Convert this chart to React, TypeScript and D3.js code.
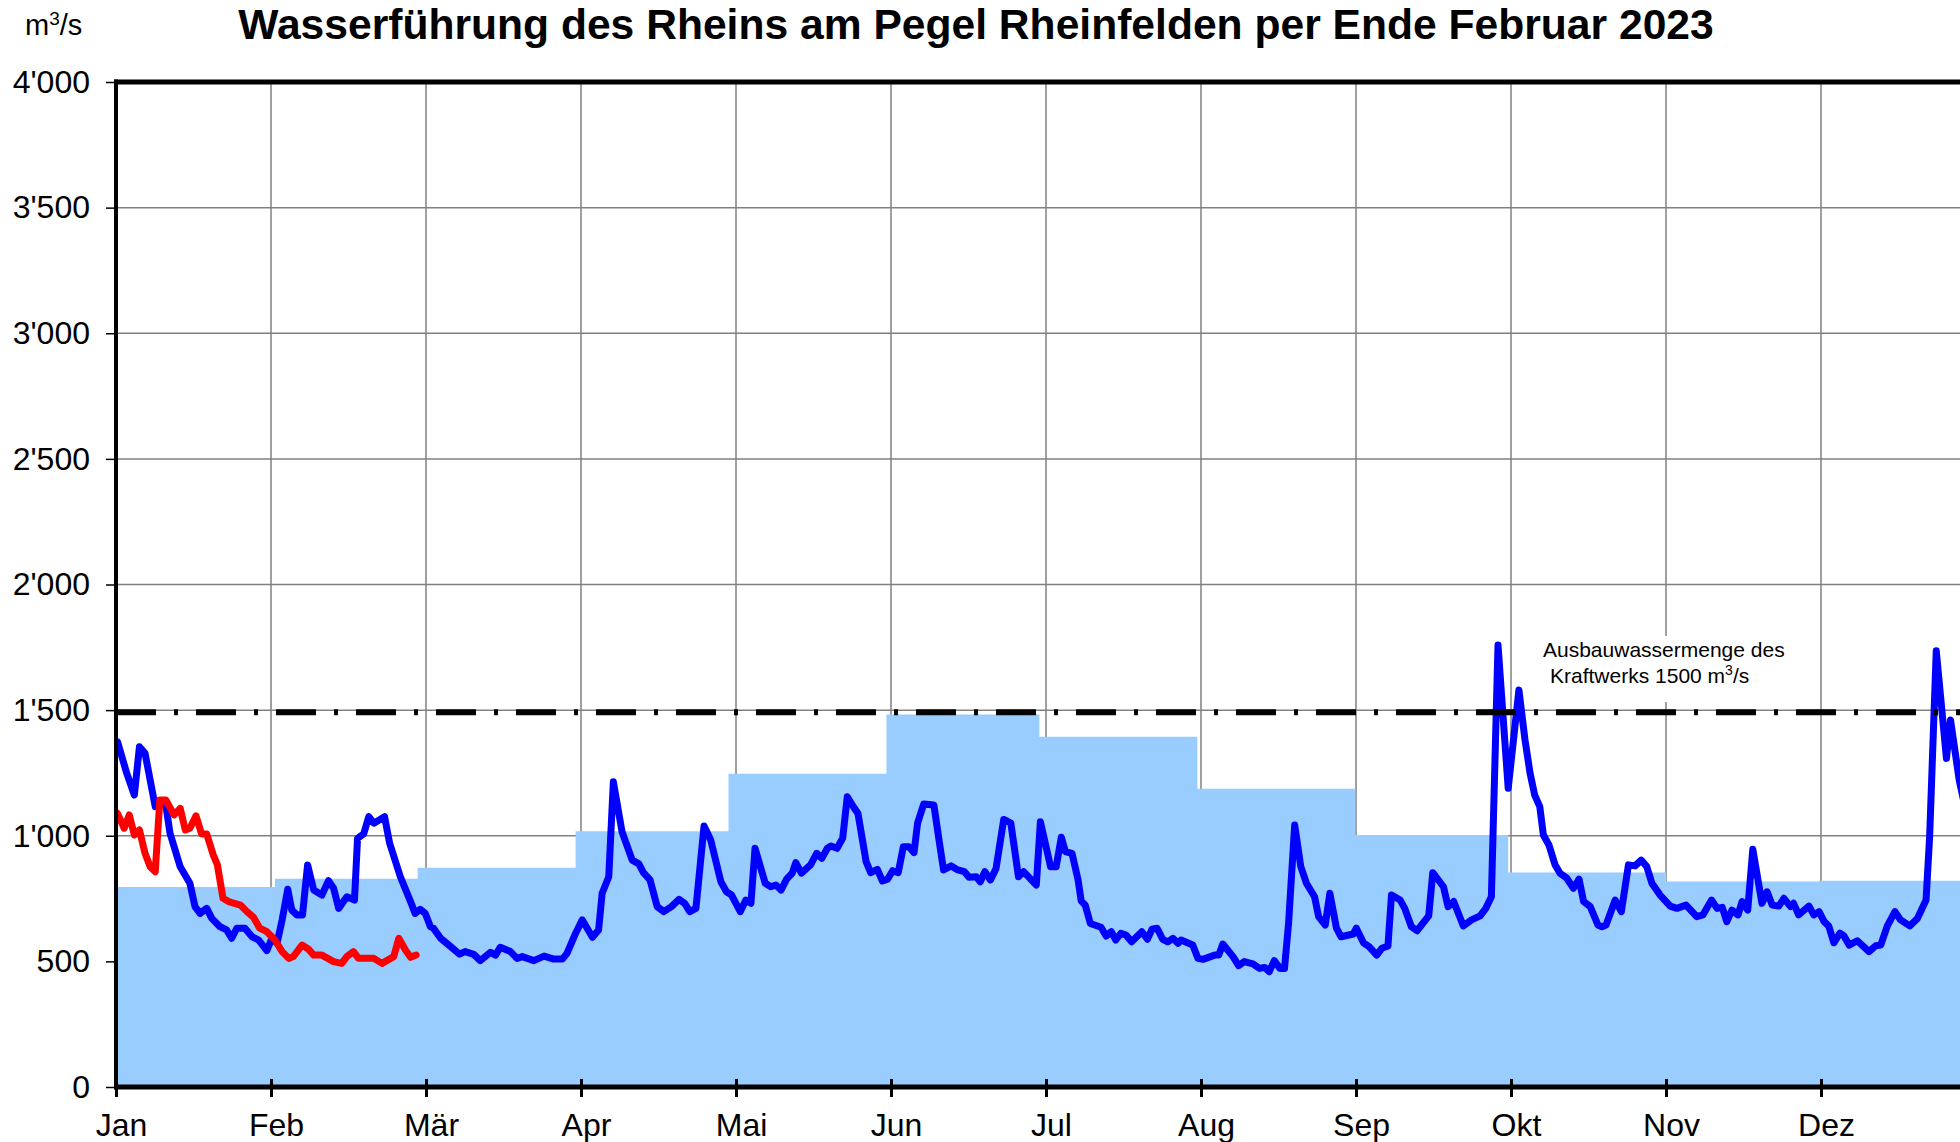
import React, { useEffect, useRef } from 'react';
import * as d3 from 'd3';

const months = ['Jan', 'Feb', 'Mär', 'Apr', 'Mai', 'Jun', 'Jul', 'Aug', 'Sep', 'Okt', 'Nov', 'Dez'];
const monthStartDays = [0, 31, 59, 90, 120, 151, 181, 212, 243, 273, 304, 334, 365];
// long-term monthly mean (blue steps)
const monthlyMean = [796, 829, 873, 1018, 1247, 1483, 1394, 1187, 1003, 854, 818, 821];
const yTicks = [0, 500, 1000, 1500, 2000, 2500, 3000, 3500, 4000];
const ausbauWassermenge = 1500;

// previous year (blue line), day of year / m3/s
const days2022 = [
  0.3, 2.1, 3.6, 4.6, 5.7, 7.7, 8.6, 9.8, 10.6, 12.6, 14.5, 15.5, 16.5, 17.8, 18.8, 20.4, 21.7, 22.7, 23.7, 25.3,
  26.7, 28, 29.6, 30.6, 31.6, 32.6, 33.7, 34.5, 35.5, 36.6, 37.6, 38.8, 40.4, 41.7, 42.7, 43.7, 45.3, 46.8, 47.4, 48.6,
  49.6, 50.6, 52.7, 53.7, 55.8, 57.8, 58.7, 59.7, 60.7, 61.7, 62.3, 63.7, 65.3, 67.4, 68.5, 70.2, 71.5, 73.5, 74.5, 75.4,
  77.4, 78.7, 79.7, 82, 84, 85.9, 87.6, 88.5, 90.2, 91.5, 93.5, 94.7, 95.4, 96.7, 97.6, 99.3, 101.3, 102.6, 103.5, 104.8,
  106.2, 107.5, 109, 110.5, 111.6, 112.6, 113.8, 115.4, 116.7, 118.7, 119.8, 120.8, 122.5, 123.6, 124.6, 125.4, 127.4, 128.5, 129.5, 130.5,
  131.6, 132.7, 133.4, 134.5, 136.3, 137.5, 138.5, 139.6, 140.3, 141.5, 142.6, 143.5, 144.9, 145.6, 147.2, 148.1, 149.4, 150.4, 151.4, 152.4,
  153.5, 154.5, 155.6, 156.6, 157.3, 158.5, 160.5, 161.6, 162.4, 163.9, 165.2, 166.5, 167.4, 168.8, 169.6, 170.5, 171.6, 172.7, 174.2, 175.6,
  177.1, 178.1, 180.6, 181.4, 183.4, 184.5, 185.5, 186.3, 187.6, 188.8, 189.4, 190.2, 191.2, 193.3, 194.3, 195.3, 196.2, 197.2, 198.2, 199.3,
  201.3, 202.4, 203.3, 204.3, 205.4, 206.4, 207.4, 208.4, 209, 211.3, 212.3, 213.3, 215.6, 216.4, 217.2, 219.2, 220.3, 221.4, 223.1, 224.4,
  225.4, 226.3, 227.3, 228.4, 229.3, 230.1, 231.3, 232.5, 233.6, 235.2, 236, 237.3, 238.2, 239.5, 240.4, 242.8, 243.4, 244.8, 245.9, 247.4,
  248.4, 249.6, 250.3, 252, 252.9, 254.2, 255.3, 257.6, 258.4, 260.5, 261.4, 262.5, 264.4, 266, 267.7, 268.8, 269.9, 271.2, 273.2, 275.3,
  276.5, 277.5, 278.4, 279.4, 280.1, 281.2, 282.4, 283.4, 284.7, 286, 287.1, 288, 289.3, 290.8, 291.6, 292.4, 294.2, 295.4, 296.8, 298.1,
  299.3, 300.4, 301.4, 303, 305, 306.3, 308.1, 310.2, 311.4, 313.1, 314.2, 315.2, 316.1, 317.1, 318.3, 319.1, 320.2, 321.2, 323, 324,
  325, 326.3, 327.3, 328.6, 329.2, 330.2, 332.2, 333.2, 334.2, 335.2, 336.1, 337.1, 338.3, 339.1, 340.1, 341.7, 344, 345.3, 346.3, 347.6,
  349.1, 350.2, 352, 353.5, 355.2, 355.9, 357.2, 359.2, 360, 361.7, 363,
];
const flow2022 = [
  1374, 1249, 1162, 1354, 1328, 1116, 1129, 1118, 1010, 877, 811, 718, 691, 711, 671, 638, 625, 592, 632, 632,
  598, 585, 543, 592, 572, 665, 787, 704, 685, 685, 884, 784, 764, 821, 791, 711, 757, 744, 990, 1007,
  1076, 1050, 1076, 970, 837, 738, 691, 707, 691, 638, 632, 592, 565, 529, 539, 528, 503, 536, 525, 556,
  539, 512, 519, 503, 521, 509, 509, 532, 612, 665, 596, 625, 771, 837, 1215, 1016, 903, 888, 853, 824,
  718, 698, 718, 747, 731, 698, 711, 1039, 983, 817, 777, 764, 698, 744, 731, 950, 811, 797, 804, 784,
  827, 851, 893, 851, 884, 930, 910, 950, 959, 950, 990, 1155, 1109, 1089, 897, 853, 866, 820, 827, 861,
  853, 956, 956, 933, 1050, 1126, 1122, 970, 864, 880, 864, 857, 835, 837, 817, 857, 824, 870, 1065, 1050,
  837, 857, 804, 1056, 877, 877, 994, 937, 930, 824, 741, 724, 651, 636, 601, 618, 585, 612, 605, 578,
  618, 588, 628, 632, 588, 578, 592, 572, 585, 565, 512, 508, 525, 525, 569, 519, 483, 499, 490, 472,
  476, 459, 503, 472, 472, 651, 1043, 877, 811, 757, 678, 645, 771, 632, 598, 609, 632, 574, 559, 525,
  552, 561, 764, 744, 711, 638, 622, 681, 853, 797, 718, 738, 641, 665, 681, 711, 757, 1759, 1189, 1580,
  1381, 1248, 1162, 1116, 1003, 963, 884, 850, 831, 791, 827, 738, 718, 645, 638, 645, 744, 698, 884, 880,
  903, 877, 811, 764, 720, 711, 724, 678, 685, 744, 711, 715, 658, 704, 685, 738, 704, 946, 731, 777,
  724, 720, 751, 718, 731, 685, 720, 685, 698, 658, 641, 574, 612, 601, 565, 582, 539, 562, 565, 641,
  698, 665, 641, 671, 744, 996, 1736, 1308, 1461, 1222, 1100,
];

// current year (red line)
const days2023 = [
  0.3, 1.6, 2.6, 3.6, 4.6, 5.7, 6.7, 7.7, 8.6, 9.8, 11.4, 12.6, 13.6, 14.5, 15.7, 16.8, 17.8, 19.1, 19.9, 21,
  22.1, 24.4, 25.7, 27, 28.2, 29.6, 31.2, 32.6, 33.9, 34.8, 36.5, 37.8, 38.8, 40.4, 42.7, 44.3, 45.3, 46.6, 47.6, 50.6,
  52.2, 54.5, 55.5, 56.8, 57.8, 58.9,
];
const flow2023 = [
  1089, 1030, 1083, 1003, 1023, 930, 877, 857, 1142, 1142, 1083, 1109, 1023, 1030, 1079, 1007, 1007, 923, 884, 751,
  738, 724, 698, 675, 632, 618, 585, 539, 512, 519, 565, 548, 525, 525, 499, 492, 519, 539, 512, 512,
  492, 519, 592, 545, 516, 525,
];

const FONT = "'Liberation Sans', Arial, Helvetica, sans-serif";

const fmtTick = (v) => (v >= 1000 ? `${Math.floor(v / 1000)}'${String(v % 1000).padStart(3, '0')}` : `${v}`);

const App = () => {
  const svgRef = useRef(null);

  useEffect(() => {
    const W = 1960;
    const H = 1142;
    const left = 116;
    const top = 82;
    const bottom = 1087;

    const svg = d3.select(svgRef.current).attr('width', W).attr('height', H);
    svg.selectAll('*').remove();

    const x = d3.scaleLinear().domain([0, 365]).range([left, 1976]);
    const y = d3.scaleLinear().domain([0, 4000]).range([bottom, top]);
    const monthTicks = months.map((_, i) => (i * 365) / 12);

    svg.append('defs').append('clipPath').attr('id', 'plotClip')
      .append('rect').attr('x', left).attr('y', 0).attr('width', W - left).attr('height', bottom);

    // grid
    const grid = svg.append('g').attr('stroke', '#808080').attr('stroke-width', 1.5);
    grid.selectAll('line.h').data(yTicks.filter((v) => v > 0 && v < 4000)).join('line')
      .attr('class', 'h')
      .attr('x1', left).attr('x2', W)
      .attr('y1', (d) => y(d)).attr('y2', (d) => y(d));
    grid.selectAll('line.v').data(monthTicks.slice(1)).join('line')
      .attr('class', 'v')
      .attr('x1', (d) => x(d)).attr('x2', (d) => x(d))
      .attr('y1', top).attr('y2', bottom);

    // monthly mean steps
    const steps = monthStartDays.map((d, i) => ({ day: d, v: monthlyMean[Math.min(i, 11)] }));
    const area = d3.area()
      .curve(d3.curveStepAfter)
      .x((d) => x(d.day))
      .y0(y(0))
      .y1((d) => y(d.v));
    svg.append('path')
      .datum(steps)
      .attr('d', area)
      .attr('fill', '#99CCFF')
      .attr('transform', 'translate(1,0)');

    const line = (days) => d3.line()
      .x((d, i) => x(days[i]))
      .y((d) => y(d));

    const plot = svg.append('g').attr('clip-path', 'url(#plotClip)');
    plot.append('path')
      .datum(flow2022)
      .attr('d', line(days2022))
      .attr('fill', 'none')
      .attr('stroke', '#0000FF')
      .attr('stroke-width', 7)
      .attr('stroke-linejoin', 'round')
      .attr('stroke-linecap', 'round');
    plot.append('path')
      .datum(flow2023)
      .attr('d', line(days2023))
      .attr('fill', 'none')
      .attr('stroke', '#FF0000')
      .attr('stroke-width', 7)
      .attr('stroke-linejoin', 'round')
      .attr('stroke-linecap', 'round');

    // Ausbauwassermenge
    svg.append('line')
      .attr('x1', left).attr('x2', W)
      .attr('y1', y(ausbauWassermenge) + 2).attr('y2', y(ausbauWassermenge) + 2)
      .attr('stroke', '#000').attr('stroke-width', 6)
      .attr('stroke-dasharray', '40 18 4 18');

    // axes
    const yAxis = d3.axisLeft(y).tickValues(yTicks).tickSize(10).tickPadding(16).tickFormat(fmtTick);
    const gy = svg.append('g').attr('transform', `translate(${left},0)`).call(yAxis);
    gy.select('.domain').remove();
    gy.selectAll('line').attr('stroke', '#000').attr('stroke-width', 1.5);
    gy.selectAll('text').attr('fill', '#000').style('font-size', '32px').style('font-family', FONT);

    const xAxis = d3.axisBottom(x).tickValues(monthTicks).tickSize(10).tickFormat((d, i) => months[i]);
    const gx = svg.append('g').attr('transform', `translate(0,${bottom})`).call(xAxis);
    gx.select('.domain').remove();
    gx.selectAll('line').attr('y1', -8).attr('y2', 10).attr('stroke', '#000').attr('stroke-width', 3);
    gx.selectAll('text').attr('y', 49).attr('dy', 0).attr('dx', 5).attr('fill', '#000')
      .style('font-size', '32px').style('font-family', FONT);

    svg.append('line').attr('x1', left).attr('x2', left).attr('y1', top - 2.5).attr('y2', bottom + 2.5)
      .attr('stroke', '#000').attr('stroke-width', 4);
    svg.append('line').attr('x1', left - 2).attr('x2', W).attr('y1', top).attr('y2', top)
      .attr('stroke', '#000').attr('stroke-width', 5);
    svg.append('line').attr('x1', left - 2).attr('x2', W).attr('y1', bottom).attr('y2', bottom)
      .attr('stroke', '#000').attr('stroke-width', 5);

    // annotation
    svg.append('rect').attr('x', 1533).attr('y', 636).attr('width', 262).attr('height', 66).attr('fill', '#fff');
    const note = svg.append('text').style('font-family', FONT).style('font-size', '21px').attr('fill', '#000');
    note.append('tspan').attr('x', 1543).attr('y', 657).text('Ausbauwassermenge des');
    const l2 = note.append('tspan').attr('x', 1550).attr('y', 683);
    l2.append('tspan').text('Kraftwerks 1500 m');
    l2.append('tspan').attr('dy', -8).style('font-size', '14px').text('3');
    l2.append('tspan').attr('dy', 8).text('/s');

    // title and unit
    svg.append('text')
      .attr('x', 976).attr('y', 39)
      .attr('text-anchor', 'middle')
      .style('font-family', FONT).style('font-size', '42.6px').style('font-weight', 'bold')
      .text('Wasserführung des Rheins am Pegel Rheinfelden per Ende Februar 2023');

    const unit = svg.append('text').attr('x', 25).attr('y', 35)
      .style('font-family', FONT).style('font-size', '29px');
    unit.append('tspan').text('m');
    unit.append('tspan').attr('dy', -10).style('font-size', '19px').text('3');
    unit.append('tspan').attr('dy', 10).text('/s');
  }, []);

  return <svg ref={svgRef} style={{ position: 'absolute', left: 0, top: 0, background: '#fff' }}></svg>;
};

export default App;
